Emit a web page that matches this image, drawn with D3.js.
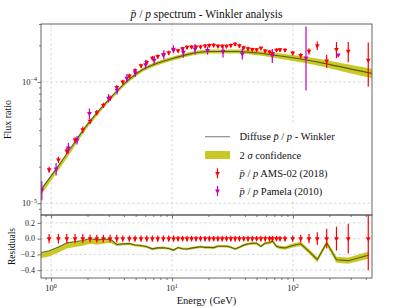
<!DOCTYPE html>
<html>
<head>
<meta charset="utf-8">
<script src="https://cdn.jsdelivr.net/npm/d3@7"></script>
<style>
body { margin: 0; background: #fff; }
svg { font-family: "Liberation Serif", "DejaVu Serif", serif; }
</style>
</head>
<body>
<svg id="chart" width="413" height="308"></svg>
<script>
// model curve (diffuse pbar/p, Winkler)
const modelE = [0.72, 0.825, 1.19, 2.01, 2.94, 4.30, 5.54, 7.62, 11.1, 14.1, 20.6, 34.2, 50.1, 73.3, 122, 190, 296, 450];
const modelF = [1.07e-5, 1.29e-5, 2.14e-5, 4.51e-5, 7.01e-5, 1.025e-4, 1.24e-4, 1.43e-4, 1.60e-4, 1.70e-4, 1.78e-4, 1.78e-4, 1.73e-4, 1.65e-4, 1.53e-4, 1.41e-4, 1.28e-4, 1.175e-4];

// 2 sigma band, given as fractions (top) and residual offsets (bottom)
const bandE = [0.72, 1.0, 1.5, 2.2, 3.0, 3.5, 5, 10, 30, 60, 100, 200, 450];
const topLo = [0.10, 0.09, 0.075, 0.06, 0.05, 0.045, 0.04, 0.038, 0.038, 0.045, 0.055, 0.07, 0.09];
const topHi = [0.01, 0.01, 0.012, 0.018, 0.022, 0.026, 0.03, 0.038, 0.038, 0.045, 0.055, 0.07, 0.09];
const resLo = [-0.075, -0.072, -0.07, -0.065, -0.055, -0.02, -0.017, -0.016, -0.016, -0.018, -0.025, -0.035, -0.045];
const resHi = [0.0, 0.0, 0.0, 0.0, 0.0, 0.012, 0.014, 0.015, 0.015, 0.018, 0.025, 0.035, 0.045];

// AMS-02 (2018)
const amsE = [0.72, 0.963, 1.149, 1.348, 1.579, 1.828, 2.101, 2.386, 2.705, 3.074, 3.491, 3.913, 4.437, 4.945, 5.543, 6.179, 6.875, 7.618, 8.477, 9.391, 10.29,
  11.21, 12.21, 13.30, 14.50, 15.79, 17.20, 18.74, 20.34, 22.07, 23.95, 26.00, 28.21, 30.62, 33.23, 36.06, 39.14, 42.47, 46.09, 50.03, 54.29,
  58.92, 63.95, 67.71, 73.04, 78.08, 85.90, 99.4, 115.8, 135.6, 158.8, 189.9, 228.8, 286.4, 419.1];
const amsF = [1.33e-5, 1.89e-5, 2.28e-5, 2.70e-5, 3.32e-5, 4.04e-5, 4.74e-5, 5.59e-5, 6.41e-5, 7.35e-5, 8.99e-5, 1.00e-4, 1.12e-4, 1.24e-4, 1.36e-4, 1.45e-4, 1.57e-4, 1.62e-4, 1.67e-4, 1.74e-4, 1.83e-4,
  1.81e-4, 1.88e-4, 1.93e-4, 1.94e-4, 1.94e-4, 1.94e-4, 1.98e-4, 2.00e-4, 2.01e-4, 1.97e-4, 1.97e-4, 1.97e-4, 2.00e-4, 2.05e-4, 1.99e-4, 1.92e-4, 1.88e-4, 1.85e-4, 1.84e-4, 1.90e-4,
  1.80e-4, 1.77e-4, 1.72e-4, 1.83e-4, 1.84e-4, 1.83e-4, 1.73e-4, 1.65e-4, 1.79e-4, 1.99e-4, 1.49e-4, 1.85e-4, 1.79e-4, 1.51e-4];
const amsErr = [8e-7, 1.1e-6, 1.4e-6, 1.6e-6, 2.0e-6, 2.4e-6, 2.4e-6, 2.8e-6, 3.2e-6, 3.7e-6, 4.5e-6, 4.0e-6, 4.5e-6, 5.0e-6, 5.4e-6, 5.8e-6, 6.3e-6, 6.5e-6, 6.7e-6, 7.0e-6, 7.3e-6,
  6.3e-6, 6.6e-6, 6.8e-6, 6.8e-6, 6.8e-6, 6.8e-6, 6.9e-6, 7.0e-6, 7.0e-6, 6.9e-6, 6.9e-6, 6.9e-6, 7.0e-6, 7.2e-6, 7.0e-6, 6.7e-6, 6.6e-6, 6.5e-6, 6.4e-6, 6.7e-6,
  6.3e-6, 6.2e-6, 6.0e-6, 6.4e-6, 6.4e-6, 6.4e-6, 6.9e-6, 8.3e-6, 1.07e-5, 1.6e-5, 1.86e-5, 2.8e-5, 3.4e-5, 6.0e-5];

// Pamela (2010)
const pamE = [0.838, 1.100, 1.390, 1.640, 2.073, 2.987, 3.511, 4.231, 4.964, 6.039, 7.128, 8.555, 10.25, 12.40, 15.49, 19.65, 26.40, 38.11, 67.45, 128.1, 236.8];
const pamF = [1.29e-5, 1.92e-5, 2.86e-5, 3.32e-5, 5.50e-5, 7.35e-5, 8.54e-5, 1.075e-4, 1.19e-4, 1.39e-4, 1.51e-4, 1.68e-4, 1.86e-4, 1.76e-4, 1.87e-4, 1.82e-4, 1.78e-4, 1.71e-4, 1.65e-4, 1.58e-4, 1.67e-4];
const pamErrLo = [2.3e-6, 2.3e-6, 2.8e-6, 2.7e-6, 5.5e-6, 5.9e-6, 6.8e-6, 8.6e-6, 9.5e-6, 1.2e-5, 1.3e-5, 1.45e-5, 1.4e-5, 1.7e-5, 1.8e-5, 1.4e-5, 1.9e-5, 1.8e-5, 2.2e-5, 7.3e-5, 2e-6];
const pamErrHi = [2.3e-6, 2.3e-6, 2.8e-6, 2.7e-6, 5.5e-6, 5.9e-6, 6.8e-6, 8.6e-6, 9.5e-6, 1.2e-5, 1.3e-5, 1.45e-5, 1.4e-5, 1.7e-5, 1.8e-5, 1.4e-5, 1.9e-5, 1.8e-5, 2.2e-5, 1.28e-4, 2e-6];

const xTicks = [1, 10, 100];
const xTickLabels = ["0", "1", "2"];
const topTicks = [1e-5, 1e-4];
const topTickLabels = ["\u22125", "\u22124"];
const resTicks = [0.2, 0.0, -0.2, -0.4];

const svg = d3.select("#chart");
const L = 41, R = 372, T = 24, MID = 215, B = 278;
const ink = "#555";
const gridCol = "#cfcfcf";
const bandCol = "#bfbf00";
const amsCol = "#ff0000";
const pamCol = "#bf00bf";

const x = d3.scaleLog().domain([0.825, 450]).range([L, R]);
const yT = d3.scaleLog().domain([8e-6, 3e-4]).range([MID, T]);
const yR = d3.scaleLinear().domain([-0.5, 0.3]).range([B, MID]);

// helpers: interpolation in log E
function interpLogLog(e, es, fs) {
  const le = Math.log10(e);
  let i = 0;
  while (i < es.length - 2 && e > es[i + 1]) i++;
  const t = (le - Math.log10(es[i])) / (Math.log10(es[i + 1]) - Math.log10(es[i]));
  return Math.pow(10, Math.log10(fs[i]) + t * (Math.log10(fs[i + 1]) - Math.log10(fs[i])));
}
function interpLin(e, es, vs) {
  const le = Math.log10(e);
  let i = 0;
  while (i < es.length - 2 && e > es[i + 1]) i++;
  const t = (le - Math.log10(es[i])) / (Math.log10(es[i + 1]) - Math.log10(es[i]));
  return vs[i] + t * (vs[i + 1] - vs[i]);
}

const defs = svg.append("defs");
defs.append("clipPath").attr("id", "clipTop").append("rect")
  .attr("x", L).attr("y", T).attr("width", R - L).attr("height", MID - T);
defs.append("clipPath").attr("id", "clipRes").append("rect")
  .attr("x", L).attr("y", MID).attr("width", R - L).attr("height", B - MID);

// ---- grids
const grid = svg.append("g").attr("stroke", gridCol).attr("stroke-width", 0.8).attr("stroke-dasharray", "2.6,2.2");
xTicks.forEach(t => {
  grid.append("line").attr("x1", x(t)).attr("x2", x(t)).attr("y1", T).attr("y2", B);
});
topTicks.forEach(t => {
  grid.append("line").attr("x1", L).attr("x2", R).attr("y1", yT(t)).attr("y2", yT(t));
});
resTicks.forEach(t => {
  grid.append("line").attr("x1", L).attr("x2", R).attr("y1", yR(t)).attr("y2", yR(t));
});

// ---- top panel
const topG = svg.append("g").attr("clip-path", "url(#clipTop)");

const bandPts = Array.from(new Set(modelE.concat(bandE))).sort((a, b) => a - b).map(e => {
  const m = interpLogLog(e, modelE, modelF);
  return { e: e, lo: m * (1 - interpLin(e, bandE, topLo)), hi: m * (1 + interpLin(e, bandE, topHi)) };
});
topG.append("path")
  .datum(bandPts)
  .attr("fill", bandCol).attr("fill-opacity", 0.85)
  .attr("d", d3.area().curve(d3.curveMonotoneX).x(d => x(d.e)).y0(d => yT(d.lo)).y1(d => yT(d.hi)));

const modelPts = modelE.map((e, i) => ({ e: e, f: modelF[i] }));
topG.append("path")
  .datum(modelPts)
  .attr("fill", "none").attr("stroke", "#000").attr("stroke-opacity", 0.55).attr("stroke-width", 1.2)
  .attr("d", d3.line().curve(d3.curveMonotoneX).x(d => x(d.e)).y(d => yT(d.f)));

const tri = d3.symbol().type(d3.symbolTriangle).size(10)();
const ams = amsE.map((e, i) => ({ e: e, f: amsF[i], err: amsErr[i] }));
const pam = pamE.map((e, i) => ({ e: e, f: pamF[i], lo: pamErrLo[i], hi: pamErrHi[i] }));

function drawPoints(g, data, col, yfn, lofn, hifn) {
  g.selectAll(null).data(data).enter().append("line")
    .attr("x1", d => x(d.e)).attr("x2", d => x(d.e))
    .attr("y1", d => yfn(lofn(d))).attr("y2", d => yfn(hifn(d)))
    .attr("stroke", col).attr("stroke-width", 1.2);
  g.selectAll(null).data(data).enter().append("path")
    .attr("d", tri)
    .attr("transform", d => "translate(" + x(d.e) + "," + yfn(d.f) + ") rotate(180)")
    .attr("fill", col);
}

drawPoints(topG, ams, amsCol, yT, d => d.f - d.err, d => d.f + d.err);
drawPoints(topG, pam, pamCol, yT, d => d.f - d.lo, d => d.f + d.hi);

// ---- residual panel
const resG = svg.append("g").attr("clip-path", "url(#clipRes)");
const resPts = ams.map(d => {
  const m = interpLogLog(d.e, modelE, modelF);
  const r = m / d.f - 1;
  return { e: d.e, r: r, lo: r + interpLin(d.e, bandE, resLo), hi: r + interpLin(d.e, bandE, resHi) };
});
resG.append("path")
  .datum(resPts)
  .attr("fill", bandCol).attr("fill-opacity", 0.85)
  .attr("d", d3.area().x(d => x(d.e)).y0(d => yR(d.lo)).y1(d => yR(d.hi)));
resG.append("path")
  .datum(resPts)
  .attr("fill", "none").attr("stroke", "#000").attr("stroke-opacity", 0.55).attr("stroke-width", 1.1)
  .attr("d", d3.line().x(d => x(d.e)).y(d => yR(d.r)));

const amsRes = ams.map(d => ({ e: d.e, f: 0, err: d.err / d.f }));
drawPoints(resG, amsRes, amsCol, yR, d => -d.err, d => d.err);

// ---- axes
function styleAxis(g) {
  g.select(".domain").remove();
  g.selectAll(".tick line").attr("stroke", ink).attr("stroke-width", 0.8);
  g.selectAll(".tick text").remove();
}
const minorX = [0.9, 2, 3, 4, 5, 6, 7, 8, 9, 20, 30, 40, 50, 60, 70, 80, 90, 200, 300, 400];
svg.append("g").attr("transform", "translate(0," + B + ")")
  .call(d3.axisBottom(x).tickValues(xTicks).tickSize(3.5)).call(styleAxis);
svg.append("g").attr("transform", "translate(0," + B + ")")
  .call(d3.axisBottom(x).tickValues(minorX).tickSize(2)).call(styleAxis);
svg.append("g").attr("transform", "translate(0," + MID + ")")
  .call(d3.axisBottom(x).tickValues(xTicks).tickSize(3.5)).call(styleAxis);
svg.append("g").attr("transform", "translate(0," + MID + ")")
  .call(d3.axisBottom(x).tickValues(minorX).tickSize(2)).call(styleAxis);

const minorT = [9e-6, 2e-5, 3e-5, 4e-5, 5e-5, 6e-5, 7e-5, 8e-5, 9e-5, 2e-4, 3e-4];
svg.append("g").attr("transform", "translate(" + L + ",0)")
  .call(d3.axisLeft(yT).tickValues(topTicks).tickSize(3.5)).call(styleAxis);
svg.append("g").attr("transform", "translate(" + L + ",0)")
  .call(d3.axisLeft(yT).tickValues(minorT).tickSize(2)).call(styleAxis);
svg.append("g").attr("transform", "translate(" + L + ",0)")
  .call(d3.axisLeft(yR).tickValues(resTicks).tickSize(3.5)).call(styleAxis);

// tick labels
const labels = svg.append("g").attr("fill", "#222");
xTicks.forEach((t, i) => {
  const tx = labels.append("text").attr("x", x(t)).attr("y", 291).attr("text-anchor", "middle").attr("font-size", 8.5);
  tx.append("tspan").text("10");
  tx.append("tspan").attr("dy", -3.5).attr("font-size", 6).text(xTickLabels[i]);
});
topTicks.forEach((t, i) => {
  const tx = labels.append("text").attr("x", 37).attr("y", yT(t) + 3).attr("text-anchor", "end").attr("font-size", 8.5);
  tx.append("tspan").text("10");
  tx.append("tspan").attr("dy", -3.5).attr("font-size", 6).text(topTickLabels[i]);
});
resTicks.forEach(t => {
  labels.append("text").attr("x", 35).attr("y", yR(t) + 2.8).attr("text-anchor", "end").attr("font-size", 8)
    .text(d3.format(".1f")(t).replace("-", "\u2212"));
});

// spines
const spines = svg.append("g").attr("fill", "none").attr("stroke", ink).attr("stroke-width", 0.9);
spines.append("rect").attr("x", L).attr("y", T).attr("width", R - L).attr("height", MID - T);
spines.append("rect").attr("x", L).attr("y", MID).attr("width", R - L).attr("height", B - MID);

// axis titles
svg.append("text").attr("x", 206.5).attr("y", 17.5).attr("text-anchor", "middle").attr("font-size", 11.5).attr("fill", "#111")
  .html('<tspan font-style="italic">p\u0304</tspan> / <tspan font-style="italic">p</tspan> spectrum - Winkler analysis');
svg.append("text").attr("transform", "translate(10.5," + (T + MID) / 2 + ") rotate(-90)")
  .attr("text-anchor", "middle").attr("font-size", 10).attr("fill", "#111").text("Flux ratio");
svg.append("text").attr("transform", "translate(14.5," + (MID + B) / 2 + ") rotate(-90)")
  .attr("text-anchor", "middle").attr("font-size", 9.5).attr("fill", "#111").text("Residuals");
svg.append("text").attr("x", 206.5).attr("y", 304).attr("text-anchor", "middle").attr("font-size", 10.5).attr("fill", "#111")
  .text("Energy (GeV)");

// ---- legend
const leg = svg.append("g");
leg.append("rect").attr("x", 200).attr("y", 125).attr("width", 168).attr("height", 75).attr("fill", "#fff").attr("fill-opacity", 0.85);
const rows = [136.7, 155, 173.3, 191];
leg.append("line").attr("x1", 205).attr("x2", 230).attr("y1", rows[0]).attr("y2", rows[0])
  .attr("stroke", "#000").attr("stroke-opacity", 0.45).attr("stroke-width", 1.2);
leg.append("rect").attr("x", 205).attr("y", rows[1] - 4).attr("width", 25).attr("height", 8)
  .attr("fill", bandCol).attr("fill-opacity", 0.85);
[[amsCol, rows[2]], [pamCol, rows[3]]].forEach(([c, yy]) => {
  leg.append("line").attr("x1", 217.5).attr("x2", 217.5).attr("y1", yy - 5).attr("y2", yy + 5)
    .attr("stroke", c).attr("stroke-width", 1.2);
  leg.append("path").attr("d", tri).attr("transform", "translate(217.5," + yy + ") rotate(180)").attr("fill", c);
});
const legText = [
  '<tspan>Diffuse </tspan><tspan font-style="italic">p\u0304</tspan> / <tspan font-style="italic">p</tspan> - Winkler',
  '2 <tspan font-style="italic">\u03c3</tspan> confidence',
  '<tspan font-style="italic">p\u0304</tspan> / <tspan font-style="italic">p</tspan> AMS-02 (2018)',
  '<tspan font-style="italic">p\u0304</tspan> / <tspan font-style="italic">p</tspan> Pamela (2010)'
];
legText.forEach((t, i) => {
  leg.append("text").attr("x", 239.5).attr("y", rows[i] + 3.6).attr("font-size", 10.5).attr("fill", "#111").html(t);
});
</script>
</body>
</html>
